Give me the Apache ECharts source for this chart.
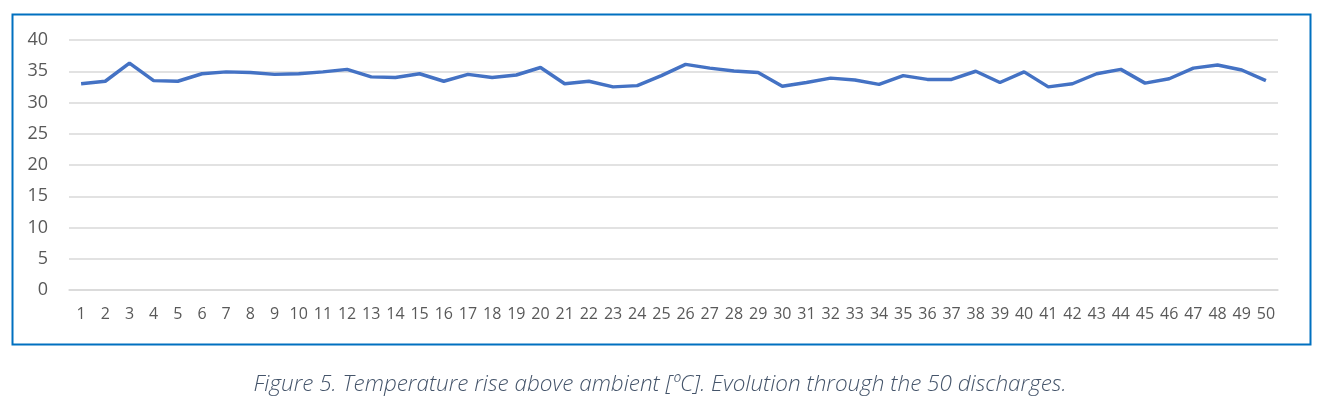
<!DOCTYPE html>
<html>
<head>
<meta charset="utf-8">
<script src="https://cdn.jsdelivr.net/npm/echarts@6/dist/echarts.min.js"></script>
<style>
html,body{margin:0;padding:0;background:#fff;}
#chart{width:1320px;height:410px;}
</style>
</head>
<body>
<div id="chart"></div>
<script>
const categories = Array.from({length: 50}, (_, i) => String(i + 1));
const temperatureRise = [
  33.0, 33.4, 36.3, 33.5, 33.4, 34.6, 34.9, 34.8, 34.5, 34.6,
  34.9, 35.3, 34.1, 34.0, 34.6, 33.4, 34.5, 34.0, 34.4, 35.6,
  33.0, 33.4, 32.5, 32.7, 34.3, 36.1, 35.5, 35.05, 34.8, 32.6,
  33.2, 33.9, 33.6, 32.9, 34.3, 33.7, 33.7, 35.0, 33.2, 34.9,
  32.5, 33.0, 34.6, 35.3, 33.1, 33.8, 35.5, 36.0, 35.2, 33.5
];
const captionText = 'Figure 5. Temperature rise above ambient [ºC]. Evolution through the 50 discharges.';

const chart = echarts.init(document.getElementById('chart'));
chart.setOption({
  animation: false,
  backgroundColor: '#ffffff',
  grid: {left: 69, right: 42, top: 40, bottom: 120},
  graphic: [
    {type: 'rect', left: 10, top: 12, shape: {width: 1298, height: 330},
     style: {fill: 'none', stroke: '#0070C0', lineWidth: 2}, silent: true},
    {type: 'text', left: 'center', top: 373,
     style: {text: captionText, fill: '#44546A', font: 'italic 300 22.5px "Open Sans", "Noto Sans", sans-serif'}}
  ],
  xAxis: {
    type: 'category',
    data: categories,
    boundaryGap: true,
    axisLine: {show: true, lineStyle: {color: '#d9d9d9', width: 1.5}},
    axisTick: {show: false},
    axisLabel: {color: '#595959', fontSize: 16, margin: 16, interval: 0, fontFamily: '"Open Sans", "Noto Sans", sans-serif'}
  },
  yAxis: {
    type: 'value',
    min: 0, max: 40, interval: 5,
    axisLine: {show: false},
    axisTick: {show: false},
    splitLine: {lineStyle: {color: '#d9d9d9', width: 1.5}},
    axisLabel: {color: '#595959', fontSize: 18, margin: 21, fontFamily: '"Open Sans", "Noto Sans", sans-serif'}
  },
  series: [{
    type: 'line',
    data: temperatureRise,
    symbol: 'none',
    lineStyle: {color: '#4472C4', width: 3.5},
    itemStyle: {color: '#4472C4'}
  }]
});
</script>
</body>
</html>
